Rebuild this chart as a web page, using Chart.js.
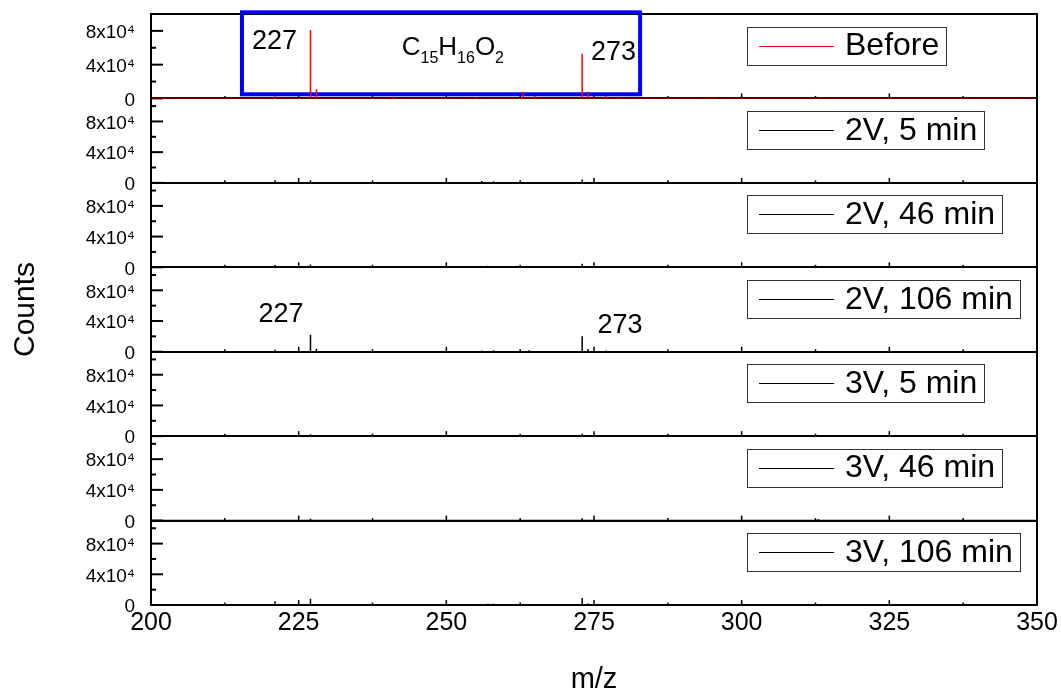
<!DOCTYPE html>
<html>
<head>
<meta charset="utf-8">
<title>Mass spectra</title>
<script src="https://cdn.jsdelivr.net/npm/chart.js@4/dist/chart.umd.min.js"></script>
<style>
  html, body { margin: 0; padding: 0; background: #fff; }
  canvas { display: block; }
</style>
</head>
<body>
<canvas id="ms" width="1061" height="690"></canvas>
<script>
// Series shown top to bottom, one panel each
const seriesNames = ['Before', '2V, 5 min', '2V, 46 min', '2V, 106 min', '3V, 5 min', '3V, 46 min', '3V, 106 min'];
const seriesColors = ['#ff0000', '#000000', '#000000', '#000000', '#000000', '#000000', '#000000'];

// Peak positions (m/z) and intensities (counts) of each spectrum
const mzBefore      = [221, 227, 228, 241, 255, 263, 265, 273, 274, 277, 279, 295];
const countsBefore  = [2500, 81000, 11000, 2000, 1500, 8000, 3000, 53000, 8000, 3000, 2000, 2000];
const mz2V5         = [221, 227, 256, 258, 273, 275];
const counts2V5     = [3500, 3500, 2500, 2000, 4500, 1500];
const mz2V46        = [221, 227, 257, 273];
const counts2V46    = [3000, 3500, 2000, 4500];
const mz2V106       = [221, 227, 228, 256, 258, 264, 273, 274, 277];
const counts2V106   = [2500, 22000, 4000, 1500, 2000, 2000, 20000, 3500, 1500];
const mz3V5         = [227, 273];
const counts3V5     = [2500, 3000];
const mz3V46        = [227, 273, 313];
const counts3V46    = [2500, 3000, 2000];
const mz3V106       = [221, 227, 257, 258, 273, 274];
const counts3V106   = [5000, 8000, 1500, 1500, 9000, 2000];

const seriesMz     = [mzBefore, mz2V5, mz2V46, mz2V106, mz3V5, mz3V46, mz3V106];
const seriesCounts = [countsBefore, counts2V5, counts2V46, counts2V106, counts3V5, counts3V46, counts3V106];

// Axes
const mzMin = 200, mzMax = 350;
const xTicks = [200, 225, 250, 275, 300, 325, 350];
const xMinorTicks = [212.5, 237.5, 262.5, 287.5, 312.5, 337.5];
const yTicks = [0, 20000, 40000, 60000, 80000, 100000];
const yTickLabels = ['0', '', '4x10\u2074', '', '8x10\u2074', ''];
const panelMax = [100000, 110000, 110000, 110000, 110000, 110000, 110000];

// Peak labels: panel, text, m/z, counts
const labelPanels = [0, 0, 3, 3];
const labelTexts  = ['227', '273', '227', '273'];
const labelMz     = [220.9, 278.3, 222.0, 279.4];
const labelCounts = [67800, 53800, 48900, 33700];

// Formula callout in the top panel
const formulaParts = ['C', '15', 'H', '16', 'O', '2'];
const formulaIsSub = [false, true, false, true, false, true];
const formulaMz = 242.45, formulaCounts = 51400;
const boxMz = [215.4, 282.8], boxCounts = [4900, 102000];

const FONT = '"Liberation Sans", Arial, Helvetica, sans-serif';

// Each peak is drawn as a vertical stick from the baseline
function sticks(mz, counts) {
  const pts = [{ x: mzMin, y: 0 }];
  mz.forEach((m, i) => {
    pts.push({ x: m, y: 0 }, { x: m, y: counts[i] }, { x: m, y: 0 });
  });
  pts.push({ x: mzMax, y: 0 });
  return pts;
}

const datasets = seriesNames.map((name, i) => ({
  label: name,
  data: sticks(seriesMz[i], seriesCounts[i]),
  borderColor: seriesColors[i],
  backgroundColor: seriesColors[i],
  borderWidth: 1.5,
  pointRadius: 0,
  tension: 0,
  fill: false,
  yAxisID: 'y' + i,
  xAxisID: 'x'
}));

const scales = {
  x: {
    type: 'linear',
    position: 'bottom',
    min: mzMin,
    max: mzMax,
    afterBuildTicks: s => { s.ticks = xTicks.map(v => ({ value: v })); },
    afterFit: s => { s.height = 85; },
    ticks: { autoSkip: false, maxRotation: 0, padding: 3, color: '#000', font: { family: FONT, size: 25 } },
    grid: { display: false, drawTicks: false },
    border: { display: true, color: '#000', width: 2 },
    title: { display: true, text: 'm/z', color: '#000', font: { family: FONT, size: 29, lineHeight: 0.9 }, padding: { top: 0, bottom: -3 } }
  }
};

// Stacked left axes, one per panel (last defined sits on top)
for (let i = seriesNames.length - 1; i >= 0; i--) {
  scales['y' + i] = {
    type: 'linear',
    position: 'left',
    stack: 'panels',
    stackWeight: 1,
    min: 0,
    max: panelMax[i],
    afterBuildTicks: s => { s.ticks = yTicks.filter(v => v <= s.max).map(v => ({ value: v })); },
    afterFit: s => { s.width = 151; s.paddingTop = 0; s.paddingBottom = 0; },
    ticks: {
      autoSkip: false,
      padding: 16,
      labelOffset: 2,
      color: '#000',
      font: { family: FONT, size: 19 },
      callback: v => { const k = yTicks.indexOf(v); return k >= 0 ? yTickLabels[k] : ''; }
    },
    grid: {
      drawTicks: false,
      lineWidth: 2,
      color: c => (c.tick && c.tick.value === 0) ? '#000' : 'rgba(0,0,0,0)'
    },
    border: { display: true, color: '#000', width: 2 },
    title: {
      display: i === 3,
      text: 'Counts',
      color: '#000',
      font: { family: FONT, size: 30 },
      padding: { top: 8, bottom: 0 }
    }
  };
}

function seg(ctx, x1, y1, x2, y2) {
  ctx.beginPath(); ctx.moveTo(x1, y1); ctx.lineTo(x2, y2); ctx.stroke();
}

const panelDecor = {
  id: 'panelDecor',
  beforeDatasetsDraw(chart) {
    const { ctx, chartArea: a } = chart;
    const xs = chart.scales.x;
    ctx.save();
    ctx.strokeStyle = '#000';
    ctx.lineWidth = 2;
    // frame: top and right edges
    ctx.beginPath();
    ctx.moveTo(a.left, a.top);
    ctx.lineTo(a.right, a.top);
    ctx.lineTo(a.right, a.bottom);
    ctx.stroke();
    // inward tick marks on every panel
    seriesNames.forEach((_, i) => {
      const ys = chart.scales['y' + i];
      const base = ys.getPixelForValue(0);
      yTicks.forEach((v, k) => {
        if (v > ys.max) return;
        const py = ys.getPixelForValue(v);
        seg(ctx, a.left, py, a.left + (yTickLabels[k] ? 12 : 5), py);
      });
      ctx.lineWidth = 1.5;
      xTicks.forEach(v => { const px = xs.getPixelForValue(v); seg(ctx, px, base, px, base - 5); });
      xMinorTicks.forEach(v => { const px = xs.getPixelForValue(v); seg(ctx, px, base, px, base - 2.5); });
      ctx.lineWidth = 2;
    });
    // formula callout box
    const y0 = chart.scales.y0;
    const bx1 = xs.getPixelForValue(boxMz[0]), bx2 = xs.getPixelForValue(boxMz[1]);
    const by1 = y0.getPixelForValue(boxCounts[1]), by2 = y0.getPixelForValue(boxCounts[0]);
    ctx.strokeStyle = '#0000ff';
    ctx.lineWidth = 4;
    ctx.strokeRect(bx1, by1, bx2 - bx1, by2 - by1);
    ctx.restore();
  },
  afterDatasetsDraw(chart) {
    const { ctx, chartArea: a } = chart;
    const xs = chart.scales.x;
    ctx.save();
    ctx.fillStyle = '#000';
    // peak labels
    ctx.font = '27px ' + FONT;
    ctx.textAlign = 'center';
    ctx.textBaseline = 'middle';
    labelTexts.forEach((t, k) => {
      const ys = chart.scales['y' + labelPanels[k]];
      ctx.fillText(t, xs.getPixelForValue(labelMz[k]), ys.getPixelForValue(labelCounts[k]));
    });
    // molecular formula with subscripts
    ctx.textAlign = 'left';
    ctx.textBaseline = 'alphabetic';
    let fx = xs.getPixelForValue(formulaMz);
    const fy = chart.scales.y0.getPixelForValue(formulaCounts);
    formulaParts.forEach((p, k) => {
      ctx.font = (formulaIsSub[k] ? '16px ' : '26px ') + FONT;
      ctx.fillText(p, fx, fy + (formulaIsSub[k] ? 8 : 0));
      fx += ctx.measureText(p).width;
    });
    // one legend box per panel
    chart.data.datasets.forEach((ds, i) => {
      const ys = chart.scales['y' + i];
      const left = a.left + 596;
      const top = ys.top + 12.5;
      const h = 38;
      ctx.font = '32px ' + FONT;
      const tw = ctx.measureText(ds.label).width;
      const w = 98 + tw + 7;
      ctx.lineWidth = 1;
      ctx.strokeStyle = '#333';
      ctx.strokeRect(Math.round(left) + 0.5, Math.round(top) + 0.5, Math.round(w), h);
      const my = Math.round(top + h / 2) + 0.5;
      ctx.strokeStyle = ds.borderColor;
      seg(ctx, left + 12, my, left + 87, my);
      ctx.fillStyle = '#000';
      ctx.textAlign = 'left';
      ctx.textBaseline = 'middle';
      ctx.fillText(ds.label, left + 98, top + h / 2 + 1);
    });
    ctx.restore();
  }
};

new Chart(document.getElementById('ms'), {
  type: 'line',
  data: { datasets },
  options: {
    responsive: false,
    animation: false,
    devicePixelRatio: 1,
    layout: { padding: { top: 14, right: 24, left: 0, bottom: 0 } },
    plugins: { legend: { display: false }, tooltip: { enabled: false } },
    scales
  },
  plugins: [panelDecor]
});
</script>
</body>
</html>
